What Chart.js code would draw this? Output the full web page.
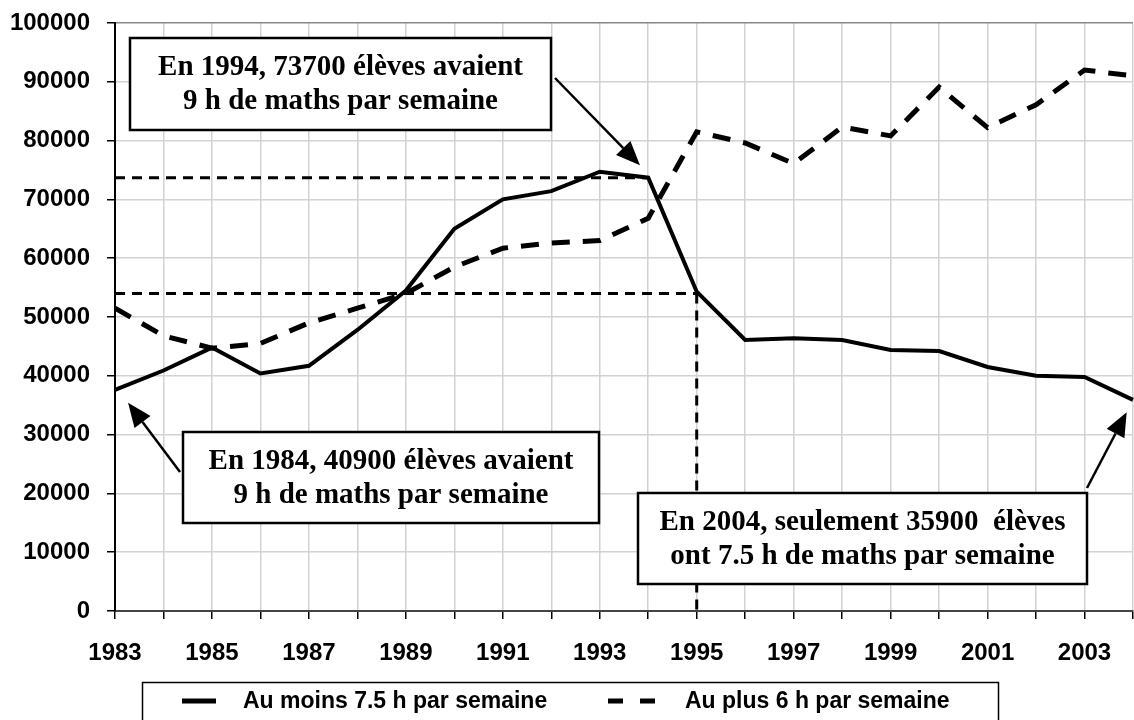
<!DOCTYPE html>
<html lang="fr">
<head>
<meta charset="UTF-8">
<title>Élèves et heures de maths</title>
<script src="https://cdn.jsdelivr.net/npm/chart.js"></script>
<style>
  html, body { margin: 0; padding: 0; background: #fff; }
  canvas { display: block; }
</style>
</head>
<body>
<canvas id="mathsChart" width="1134" height="720"></canvas>
<script>
// --- data ---
const years = ['1983','1984','1985','1986','1987','1988','1989','1990','1991','1992','1993',
               '1994','1995','1996','1997','1998','1999','2000','2001','2002','2003','2004'];
const auMoins = [37600, 40900, 44800, 40400, 41700, 47800, 54500, 65000, 70000, 71400, 74700,
                 73700, 54300, 46100, 46400, 46100, 44400, 44200, 41500, 40000, 39800, 35900];
const auPlus  = [51500, 46800, 44700, 45500, 49000, 51500, 54000, 58500, 61700, 62600, 63000,
                 66800, 81500, 79600, 76100, 82300, 80800, 89100, 82200, 86100, 92000, 91000];
const seriesLabels = ['Au moins 7.5 h par semaine', 'Au plus 6 h par semaine'];
const yMin = 0, yMax = 100000, yStep = 10000;

// dashed guide lines: horizontal level up to a year, vertical drop at a year
const guideLevels = [ { value: 73700, until: 11 }, { value: 54000, until: 12 } ];
const guideDrops  = [ { index: 12, value: 54000 } ];

// callouts: box in pixels, arrow tail in pixels, arrow tip in data units (index, value)
const notes = [
  { lines: ['En 1994, 73700 élèves avaient', '9 h de maths par semaine'],
    box: [130, 38, 551, 130], tail: [555, 78], tip: [10.83, 75800] },
  { lines: ['En 1984, 40900 élèves avaient', '9 h de maths par semaine'],
    box: [183, 432, 599, 523], tail: [180, 472], tip: [0.27, 35400] },
  { lines: ['En 2004, seulement 35900  élèves', 'ont 7.5 h de maths par semaine'],
    box: [638, 493, 1087, 584], tail: [1087, 488], tip: [20.87, 33800] }
];

function drawArrow(ctx, x1, y1, x2, y2) {
  const a = Math.atan2(y2 - y1, x2 - x1);
  const len = 24, half = 10;
  const bx = x2 - len * Math.cos(a), by = y2 - len * Math.sin(a);
  ctx.beginPath();
  ctx.moveTo(x1, y1);
  ctx.lineTo(bx, by);
  ctx.stroke();
  ctx.beginPath();
  ctx.moveTo(x2, y2);
  ctx.lineTo(bx + half * Math.sin(a), by - half * Math.cos(a));
  ctx.lineTo(bx - half * Math.sin(a), by + half * Math.cos(a));
  ctx.closePath();
  ctx.fill();
}

const overlay = {
  id: 'overlay',
  beforeDatasetsDraw(chart) {
    const { ctx, scales: { x, y } } = chart;
    ctx.save();
    ctx.strokeStyle = '#000';
    ctx.lineWidth = 3;
    ctx.setLineDash([10, 7]);
    guideLevels.forEach(g => {
      const py = y.getPixelForValue(g.value);
      ctx.beginPath();
      ctx.moveTo(x.left, py);
      ctx.lineTo(x.getPixelForValue(g.until), py);
      ctx.stroke();
    });
    guideDrops.forEach(g => {
      const px = x.getPixelForValue(g.index);
      ctx.beginPath();
      ctx.moveTo(px, y.getPixelForValue(g.value));
      ctx.lineTo(px, y.getPixelForValue(0));
      ctx.stroke();
    });
    ctx.restore();
  },
  afterDraw(chart) {
    const { ctx, scales: { x, y } } = chart;
    ctx.save();
    // callouts
    notes.forEach(n => {
      const [l, t, r, b] = n.box;
      ctx.fillStyle = '#fff';
      ctx.fillRect(l, t, r - l, b - t);
      ctx.strokeStyle = '#000';
      ctx.lineWidth = 2.5;
      ctx.strokeRect(l, t, r - l, b - t);
      ctx.fillStyle = '#000';
      ctx.font = 'bold 29px "Liberation Serif", "Times New Roman", serif';
      ctx.textAlign = 'center';
      ctx.textBaseline = 'alphabetic';
      n.lines.forEach((s, i) => ctx.fillText(s, (l + r) / 2, t + 37 + i * 34));
      ctx.lineWidth = 2.5;
      drawArrow(ctx, n.tail[0], n.tail[1], x.getPixelForValue(n.tip[0]), y.getPixelForValue(n.tip[1]));
    });
    // legend
    ctx.strokeStyle = '#000';
    ctx.lineWidth = 1.5;
    ctx.strokeRect(142.5, 682.5, 856, 60);
    ctx.lineWidth = 5;
    ctx.setLineDash([]);
    ctx.beginPath(); ctx.moveTo(182, 701); ctx.lineTo(216, 701); ctx.stroke();
    ctx.setLineDash([15, 17]);
    ctx.beginPath(); ctx.moveTo(608, 701); ctx.lineTo(658, 701); ctx.stroke();
    ctx.setLineDash([]);
    ctx.fillStyle = '#000';
    ctx.font = 'bold 23px "Liberation Sans", Arial, sans-serif';
    ctx.textAlign = 'left';
    ctx.textBaseline = 'alphabetic';
    ctx.fillText(seriesLabels[0], 243, 708);
    ctx.fillText(seriesLabels[1], 685, 708);
    ctx.restore();
  }
};

const tickFont = { family: '"Liberation Sans", Arial, sans-serif', size: 24, weight: 'bold' };

new Chart(document.getElementById('mathsChart').getContext('2d'), {
  type: 'line',
  data: {
    labels: years,
    datasets: [
      { label: seriesLabels[0], data: auMoins, borderColor: '#000', borderWidth: 4,
        pointRadius: 0, tension: 0, fill: false },
      { label: seriesLabels[1], data: auPlus, borderColor: '#000', borderWidth: 5,
        borderDash: [18, 13], pointRadius: 0, tension: 0, fill: false }
    ]
  },
  options: {
    responsive: false,
    animation: false,
    devicePixelRatio: 1,
    layout: { padding: { top: 23, right: 1, left: 0, bottom: 0 } },
    plugins: { legend: { display: false }, tooltip: { enabled: false } },
    scales: {
      x: {
        type: 'category',
        offset: false,
        afterFit(scale) {
          scale.height = 109;
          scale.paddingLeft = 0; scale.paddingRight = 0;
        },
        grid: { color: '#d2d2d2', lineWidth: 1.5, tickColor: '#000', tickLength: 8, tickWidth: 1.5 },
        border: { color: '#444', width: 2 },
        ticks: {
          autoSkip: false, maxRotation: 0, minRotation: 0, padding: 20,
          color: '#000', font: tickFont,
          callback(v, i) { return i % 2 === 0 ? years[i] : ''; }
        }
      },
      y: {
        min: yMin, max: yMax,
        afterFit(scale) {
          scale.width = 115;
          scale.paddingTop = 0; scale.paddingBottom = 0;
        },
        grid: {
          color: c => (c.tick && c.tick.value === yMax ? '#888' : '#d2d2d2'),
          lineWidth: 1.5, tickColor: '#000', tickLength: 8, tickWidth: 1.5
        },
        border: { color: '#000', width: 2 },
        ticks: {
          stepSize: yStep, padding: 17, color: '#000', font: tickFont,
          callback(v) { return String(v); }
        }
      }
    }
  },
  plugins: [overlay]
});
</script>
</body>
</html>
